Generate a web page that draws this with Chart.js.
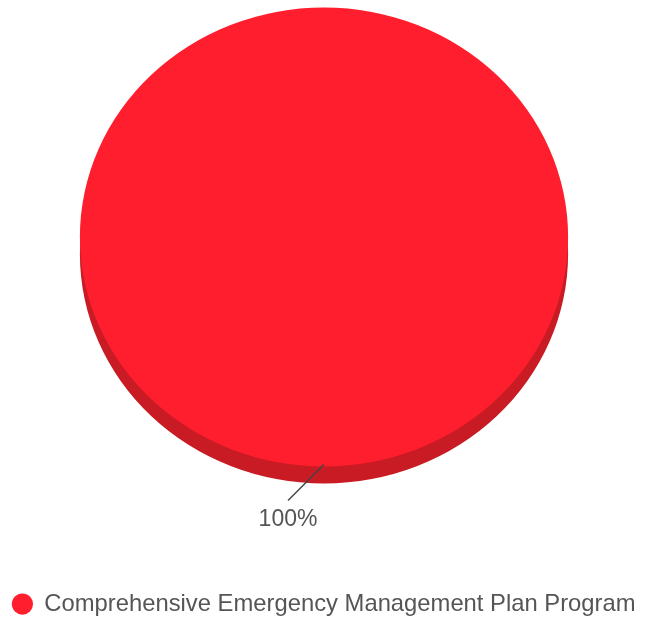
<!DOCTYPE html>
<html>
<head>
<meta charset="utf-8">
<script src="https://cdn.jsdelivr.net/npm/chart.js@4.4.0/dist/chart.umd.min.js"></script>
<style>
  html, body { margin: 0; padding: 0; background: #fff; }
  #wrap { width: 646px; height: 620px; }
</style>
</head>
<body>
<div id="wrap"><canvas id="c" width="646" height="620"></canvas></div>
<script>
const categories = ["Comprehensive Emergency Management Plan Program"];
const values = [100];
const percentLabels = ["100%"];
const colors = ["#ff1e2d"];
const rimColors = ["#c81b24"];

const TILT = 0.94;      // vertical squash of the pie face
const RIM = 17;         // thickness of the 3D rim in px
const FACE_CY = 237;    // screen y of the face centre

const tiltPlugin = {
  id: 'tilt',
  beforeDatasetsDraw(chart) {
    const ctx = chart.ctx;
    const meta = chart.getDatasetMeta(0);
    const a = meta.data[0];
    ctx.save();
    // rim
    ctx.save();
    ctx.translate(a.x, FACE_CY + RIM);
    ctx.scale(1, TILT);
    meta.data.forEach((arc, i) => {
      ctx.beginPath();
      ctx.moveTo(0, 0);
      ctx.arc(0, 0, arc.outerRadius, arc.startAngle, arc.endAngle);
      ctx.closePath();
      ctx.fillStyle = rimColors[i];
      ctx.fill();
    });
    ctx.restore();
    ctx.translate(a.x, FACE_CY);
    ctx.scale(1, TILT);
    ctx.translate(-a.x, -a.y);
  },
  afterDatasetsDraw(chart) {
    const ctx = chart.ctx;
    ctx.restore();
    const meta = chart.getDatasetMeta(0);
    meta.data.forEach((arc, i) => {
      const mid = (arc.startAngle + arc.endAngle) / 2;
      const ex = arc.x + Math.cos(mid) * arc.outerRadius;
      const ey = FACE_CY + Math.sin(mid) * arc.outerRadius * TILT - 2;
      const lx = ex - 36;
      const ly = ey + 36;
      ctx.save();
      ctx.strokeStyle = '#444';
      ctx.lineWidth = 1.5;
      ctx.beginPath();
      ctx.moveTo(ex, ey);
      ctx.lineTo(lx, ly);
      ctx.stroke();
      ctx.fillStyle = '#555';
      ctx.font = '23px "Liberation Sans", Arial, sans-serif';
      ctx.textAlign = 'center';
      ctx.textBaseline = 'middle';
      ctx.fillText(percentLabels[i], lx, ly + 19);
      ctx.restore();
    });
  }
};

new Chart(document.getElementById('c'), {
  type: 'pie',
  data: {
    labels: categories,
    datasets: [{
      data: values,
      backgroundColor: colors,
      borderWidth: 0,
      clip: false
    }]
  },
  options: {
    responsive: false,
    animation: false,
    layout: { padding: { left: 2, right: 0, top: 102, bottom: -6 } },
    plugins: {
      legend: {
        position: 'bottom',
        labels: {
          usePointStyle: true,
          pointStyle: 'circle',
          boxWidth: 20,
          boxHeight: 15,
          padding: 2,
          color: '#555',
          font: { family: '"Liberation Sans", Arial, sans-serif', size: 23.8 }
        }
      },
      tooltip: { enabled: false }
    }
  },
  plugins: [tiltPlugin]
});
</script>
</body>
</html>
